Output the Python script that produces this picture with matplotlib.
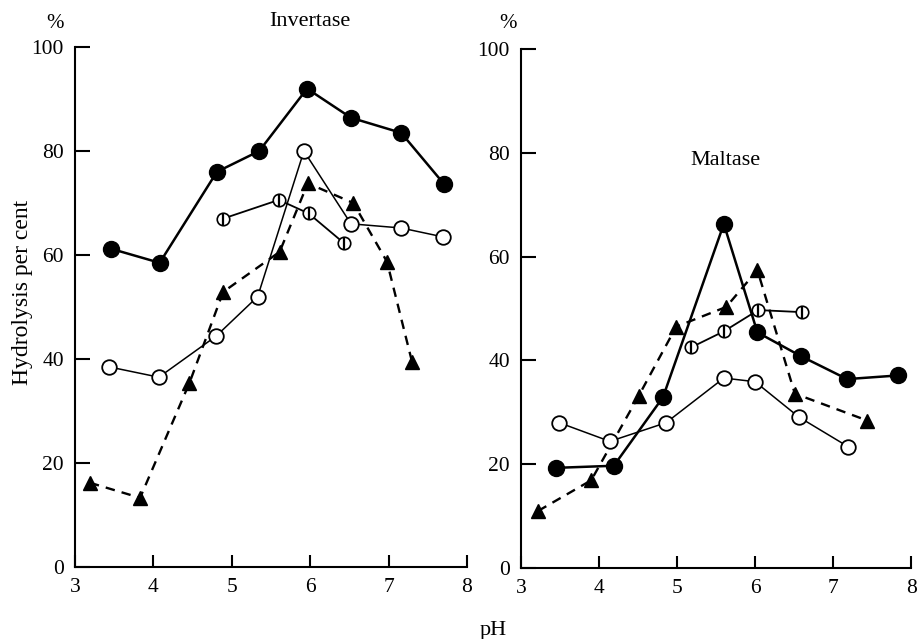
import matplotlib
matplotlib.use('Agg')
import matplotlib.pyplot as plt

plt.rcParams['font.family'] = 'Liberation Serif'

# Invertase panel
inv_filled_ph = [3.46, 4.08, 4.81, 5.35, 5.96, 6.52, 7.16, 7.71]
inv_filled = [61.2, 58.5, 76.0, 80.0, 92.0, 86.4, 83.5, 73.6]
inv_open_ph = [3.43, 4.07, 4.80, 5.33, 5.92, 6.52, 7.16, 7.69]
inv_open = [38.5, 36.5, 44.4, 52.0, 80.0, 66.0, 65.2, 63.5]
inv_half_ph = [4.89, 5.60, 5.98, 6.43]
inv_half = [67.0, 70.6, 68.0, 62.3]
inv_tri_ph = [3.19, 3.83, 4.46, 4.89, 5.61, 5.97, 6.55, 6.98, 7.30]
inv_tri = [16.2, 13.3, 35.4, 52.9, 60.6, 73.8, 70.0, 58.7, 39.4]

# Maltase panel
mal_filled_ph = [3.45, 4.19, 4.82, 5.60, 6.03, 6.59, 7.18, 7.83]
mal_filled = [19.3, 19.7, 32.9, 66.3, 45.4, 40.8, 36.4, 37.1]
mal_open_ph = [3.49, 4.14, 4.86, 5.60, 6.00, 6.56, 7.19]
mal_open = [28.0, 24.4, 28.0, 36.6, 35.9, 29.1, 23.4]
mal_half_ph = [5.18, 5.60, 6.04, 6.60]
mal_half = [42.5, 45.6, 49.7, 49.3]
mal_tri_ph = [3.22, 3.90, 4.51, 4.99, 5.63, 6.03, 6.51, 7.44]
mal_tri = [11.0, 16.9, 33.2, 46.5, 50.3, 57.4, 33.6, 28.4]

xticks = [3, 4, 5, 6, 7, 8]
yticks = [0, 20, 40, 60, 80, 100]

fig = plt.figure(figsize=(9.18, 6.39), dpi=100)
ax1 = fig.add_axes([0.0817, 0.1127, 0.427, 0.8137])
ax2 = fig.add_axes([0.5675, 0.1111, 0.425, 0.8122])


def draw(ax, fph, fv, oph, ov, hph, hv, tph, tv):
    ax.plot(tph, tv, color='k', lw=1.7, ls=(0, (4, 3)), marker='^', ms=10,
            mfc='k', mec='k', zorder=2, clip_on=False)
    ax.plot(oph, ov, color='k', lw=1.1, marker='o', ms=10.5, mfc='white',
            mec='k', mew=1.3, zorder=3, clip_on=False)
    ax.plot(hph, hv, color='k', lw=1.3, marker='o', ms=9, mfc='white',
            mec='k', mew=1.2, zorder=4, clip_on=False)
    ax.plot(hph, hv, ls='none', marker='|', ms=9, mec='k', mew=1.6,
            zorder=5, clip_on=False)
    ax.plot(fph, fv, color='k', lw=1.8, marker='o', ms=11.5, mfc='k',
            mec='k', zorder=6, clip_on=False)

    ax.set_xlim(3, 8)
    ax.set_ylim(0, 100)
    ax.set_xticks(xticks)
    ax.set_yticks(yticks)
    for s in ['top', 'right']:
        ax.spines[s].set_visible(False)
    for s in ['left', 'bottom']:
        ax.spines[s].set_linewidth(1.5)
    ax.tick_params(axis='x', direction='in', length=9, width=1.5,
                   labelsize=15.5, pad=8)
    ax.tick_params(axis='y', direction='in', length=11, width=1.5,
                   labelsize=15.5, pad=8)
    ax.patch.set_visible(False)


draw(ax1, inv_filled_ph, inv_filled, inv_open_ph, inv_open,
     inv_half_ph, inv_half, inv_tri_ph, inv_tri)
draw(ax2, mal_filled_ph, mal_filled, mal_open_ph, mal_open,
     mal_half_ph, mal_half, mal_tri_ph, mal_tri)

ax1.text(6.0, 105, 'Invertase', ha='center', va='center', fontsize=16)
ax2.text(5.62, 78.5, 'Maltase', ha='center', va='center', fontsize=16)

fig.text(55 / 918, 1 - 24 / 639, '%', ha='center', va='center', fontsize=15)
fig.text(508 / 918, 1 - 24 / 639, '%', ha='center', va='center', fontsize=15)
fig.text(23 / 918, 1 - 292 / 639, 'Hydrolysis per cent', rotation=90,
         ha='center', va='center', fontsize=17)
fig.text(493 / 918, 1 - 630 / 639, 'pH', ha='center', va='center', fontsize=16)

fig.savefig('out.png', dpi=100)
